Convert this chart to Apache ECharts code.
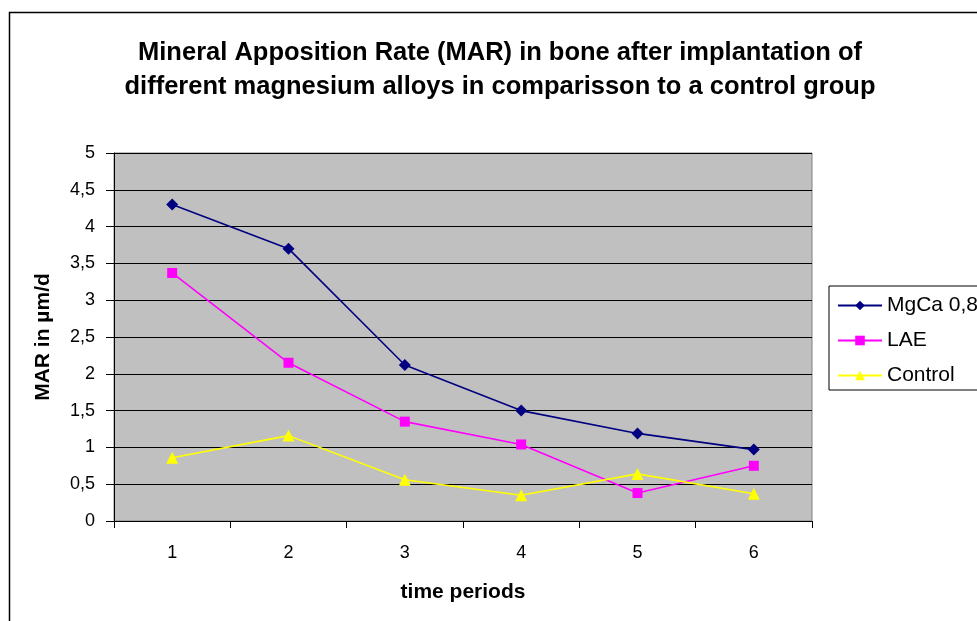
<!DOCTYPE html>
<html>
<head>
<meta charset="utf-8">
<script src="https://cdn.jsdelivr.net/npm/echarts@6/dist/echarts.min.js"></script>
<style>
  html, body { margin: 0; padding: 0; background: #fff; }
  #chart { width: 977px; height: 621px; }
</style>
</head>
<body>
<div id="chart"></div>
<script>
  const periods = ['1', '2', '3', '4', '5', '6']
  const mgca = [4.3, 3.7, 2.12, 1.5, 1.19, 0.97]
  const lae = [3.37, 2.15, 1.35, 1.04, 0.38, 0.75]
  const control = [0.86, 1.16, 0.56, 0.35, 0.64, 0.37]

  const font = 'Liberation Sans, Arial, sans-serif'

  const chart = echarts.init(document.getElementById('chart'), null, { renderer: 'canvas' })

  function makeSeries(name, data, color, symbol, size) {
    return {
      name: name,
      type: 'line',
      data: data,
      symbol: symbol,
      symbolSize: size,
      showSymbol: true,
      animation: false,
      lineStyle: { color: color, width: 1.6 },
      itemStyle: { color: color }
    }
  }

  chart.setOption({
    backgroundColor: '#fff',
    textStyle: { fontFamily: font },
    title: {
      text: 'Mineral Apposition Rate (MAR) in bone after implantation of\ndifferent magnesium alloys in comparisson to a control group',
      left: 495,
      top: 31,
      textAlign: 'center',
      textStyle: {
        fontFamily: font,
        fontSize: 25.5,
        fontWeight: 'bold',
        color: '#000',
        lineHeight: 34
      }
    },
    legend: {
      orient: 'vertical',
      left: 829,
      top: 286,
      padding: [9, 40, 4, 8],
      itemGap: 14,
      itemWidth: 44,
      itemHeight: 12,
      borderColor: '#000',
      borderWidth: 1,
      textStyle: { fontFamily: font, fontSize: 21, color: '#000' },
      data: ['MgCa 0,8', 'LAE', 'Control']
    },
    graphic: [{
      type: 'rect',
      shape: { x: 9.5, y: 12.5, width: 1000, height: 700 },
      style: { fill: null, stroke: '#000', lineWidth: 1.5 },
      z: -1,
      silent: true
    }],
    grid: {
      left: 114,
      right: 165,
      top: 153,
      bottom: 100,
      show: true,
      backgroundColor: '#C0C0C0',
      borderColor: '#808080',
      borderWidth: 1
    },
    xAxis: {
      type: 'category',
      data: periods,
      boundaryGap: true,
      name: 'time periods',
      nameLocation: 'middle',
      nameGap: 61,
      nameTextStyle: { fontFamily: font, fontSize: 21, fontWeight: 'bold', color: '#000' },
      axisLine: { lineStyle: { color: '#000', width: 1 } },
      axisTick: { show: true, length: 7, lineStyle: { color: '#000' } },
      axisLabel: { fontFamily: font, fontSize: 18, color: '#000', margin: 23 },
      splitLine: { show: false }
    },
    yAxis: {
      type: 'value',
      min: 0,
      max: 5,
      interval: 0.5,
      name: 'MAR in µm/d',
      nameLocation: 'middle',
      nameGap: 60,
      nameTextStyle: { fontFamily: font, fontSize: 21, fontWeight: 'bold', color: '#000' },
      axisLine: { show: true, lineStyle: { color: '#000', width: 1 } },
      axisTick: { show: true, length: 8, lineStyle: { color: '#000' } },
      axisLabel: {
        fontFamily: font,
        fontSize: 18,
        color: '#000',
        margin: 19,
        formatter: v => String(v).replace('.', ',')
      },
      splitLine: { show: true, lineStyle: { color: '#000', width: 1 } }
    },
    series: [
      makeSeries('MgCa 0,8', mgca, '#000080', 'diamond', 12),
      makeSeries('LAE', lae, '#FF00FF', 'rect', 10),
      makeSeries('Control', control, '#FFFF00', 'triangle', 12)
    ]
  })
</script>
</body>
</html>
